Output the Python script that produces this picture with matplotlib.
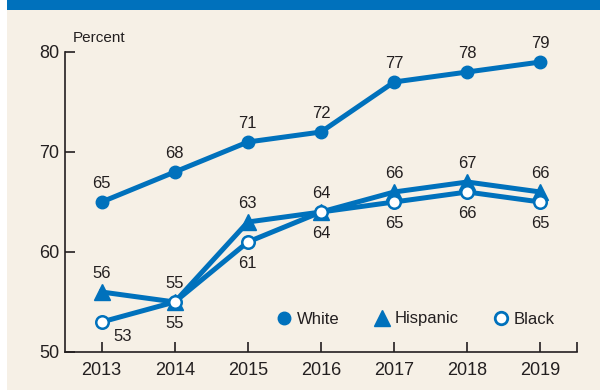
import matplotlib
matplotlib.use("Agg")
import matplotlib.pyplot as plt
from matplotlib.patches import Rectangle
from matplotlib.lines import Line2D
from matplotlib import font_manager

years = [2013, 2014, 2015, 2016, 2017, 2018, 2019]
white = [65, 68, 71, 72, 77, 78, 79]
hispanic = [56, 55, 63, 64, 66, 67, 66]
black = [53, 55, 61, 64, 65, 66, 65]
y_ticks = [50, 60, 70, 80]

names = {f.name for f in font_manager.fontManager.ttflist}
family = "Liberation Sans Narrow" if "Liberation Sans Narrow" in names else "Liberation Sans"
plt.rcParams["font.family"] = [family, "DejaVu Sans"]

BLUE = "#0071bc"
BG = "#f6f0e6"
TXT = "#231f20"

fig = plt.figure(figsize=(6, 3.9), dpi=100, facecolor="white")
fig.patches.append(Rectangle((7 / 600, 0), 1, 1, transform=fig.transFigure,
                             facecolor=BG, edgecolor="none", zorder=-2))
fig.patches.append(Rectangle((7 / 600, 1 - 10 / 390), 1, 10 / 390, transform=fig.transFigure,
                             facecolor=BLUE, edgecolor="none", zorder=-1))

ax = fig.add_axes([65 / 600, 1 - 352 / 390, 512 / 600, 300 / 390])
ax.set_facecolor("none")

lw = 3.6
ax.plot(years, white, color=BLUE, lw=lw, marker="o", ms=9, zorder=3)
ax.plot(years, hispanic, color=BLUE, lw=lw, marker="^", ms=11, zorder=3)
ax.plot(years, black, color=BLUE, lw=lw, marker="o", ms=9, mfc="white", mec=BLUE, mew=1.8, zorder=4)

fs = 12
for x, v in zip(years, white):
    ax.annotate(str(v), (x, v), xytext=(0, 8), textcoords="offset points",
                ha="center", va="bottom", fontsize=fs, color=TXT)
for x, v in zip(years, hispanic):
    ax.annotate(str(v), (x, v), xytext=(0, 8), textcoords="offset points",
                ha="center", va="bottom", fontsize=fs, color=TXT)
for i, (x, v) in enumerate(zip(years, black)):
    dx = 15 if i == 0 else 0
    dy = -5 if i == 0 else -10
    ax.annotate(str(v), (x, v), xytext=(dx, dy), textcoords="offset points",
                ha="center", va="top", fontsize=fs, color=TXT)

ax.set_xlim(2012.5, 2019.5)
ax.set_ylim(50, 80)
ax.set_xticks(years)
ax.set_xticks([2019.5], minor=True)
ax.set_yticks(y_ticks)
ax.spines["top"].set_visible(False)
ax.spines["right"].set_visible(False)
for s in ("left", "bottom"):
    ax.spines[s].set_linewidth(1.2)
    ax.spines[s].set_color(TXT)
ax.tick_params(axis="both", which="both", direction="in", length=7, width=1.2,
               color=TXT, labelsize=13, labelcolor=TXT)
ax.tick_params(axis="x", pad=7)
ax.tick_params(axis="y", pad=4)
ax.text(8 / 512, 1.025, "Percent", transform=ax.transAxes,
        fontsize=11, color=TXT, ha="left", va="bottom")

handles = [
    Line2D([], [], ls="none", marker="o", ms=9, color=BLUE),
    Line2D([], [], ls="none", marker="^", ms=12, color=BLUE),
    Line2D([], [], ls="none", marker="o", ms=9, mfc="white", mec=BLUE, mew=2),
]
ax.legend(handles, ["White", "Hispanic", "Black"], ncol=3, frameon=False,
          loc="center right", bbox_to_anchor=(0.957, 0.11), fontsize=12,
          handlelength=1.0, handletextpad=0.3, columnspacing=2.0,
          borderpad=0, borderaxespad=0, labelcolor=TXT)

fig.savefig("out.png", dpi=100, facecolor="white")
